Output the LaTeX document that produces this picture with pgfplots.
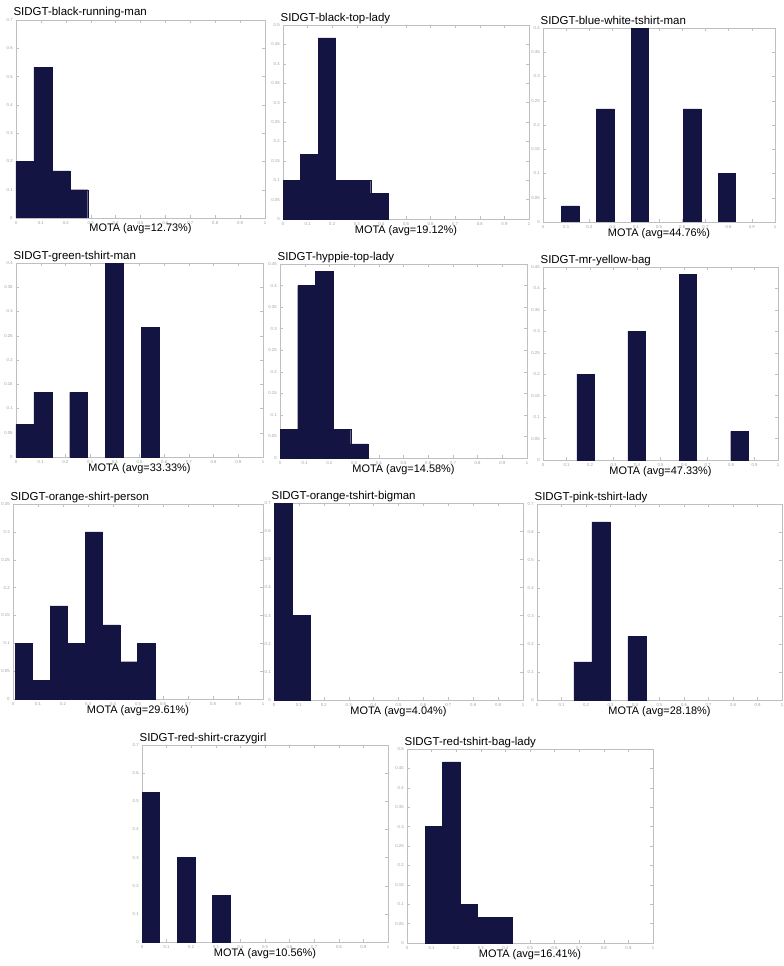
\documentclass[border=0pt]{standalone}
\usepackage{pgfplots}
\pgfplotsset{compat=1.18}
\usepackage{fontspec}
\setmainfont{Liberation Sans}
\definecolor{barnavy}{RGB}{20,20,66}
\definecolor{axgray}{RGB}{190,190,195}
\pgfplotsset{
  hist/.style={
    scale only axis, anchor=south west,
    xmin=0, xmax=1, ymin=0,
    axis line style={draw=axgray, line width=0.4pt},
    tick style={draw=axgray, line width=0.3pt},
    tick align=inside, major tick length=2pt,
    xtick={0,0.1,0.2,0.3,0.4,0.5,0.6,0.7,0.8,0.9,1},
    xticklabels={0,0.1,0.2,0.3,0.4,0.5,0.6,0.7,0.8,0.9,1},
    ticklabel style={font=\fontsize{3.2}{3.5}\selectfont, text=gray!75},
    /pgf/number format/assume math mode=true,
    yticklabel style={/pgf/number format/fixed, /pgf/number format/precision=2, xshift=1pt},
    xticklabel style={yshift=1pt},
    xlabel style={at={(axis description cs:0.5,0)}, anchor=base, yshift=-10.5pt, inner sep=0pt,
                  font=\fontsize{8.2}{9}\selectfont},
    title style={at={(axis description cs:0,1)}, anchor=base west, yshift=-3pt, xshift=-2pt, inner sep=0pt,
                 font=\fontsize{8.6}{9}\selectfont},
    axis background/.style={fill=white},
  },
  hbar/.style={ybar, bar shift=0pt, fill=barnavy, draw=barnavy, line width=0.2pt},
}
\begin{document}
\begin{tikzpicture}
\path[use as bounding box] (0,0) rectangle (588pt,-724.5pt);

% Row 1
\begin{axis}[hist, at={(12pt,-163.5pt)}, width=186.75pt, height=148.5pt,
  ymax=0.7, ytick={0,0.1,0.2,0.3,0.4,0.5,0.6,0.7},
  title={SIDGT-black-running-man}, xlabel={MOTA (avg=12.73\%)}]
\addplot[hbar, bar width=0.072] coordinates {(0.036,0.2) (0.108,0.533) (0.18,0.167) (0.252,0.1)};
\end{axis}

\begin{axis}[hist, at={(212.25pt,-164.25pt)}, width=184.5pt, height=145.5pt,
  ymax=0.5, ytick={0,0.05,0.1,0.15,0.2,0.25,0.3,0.35,0.4,0.45,0.5},
  title={SIDGT-black-top-lady}, xlabel={MOTA (avg=19.12\%)}]
\addplot[hbar, bar width=0.0713] coordinates {(0.0357,0.1) (0.107,0.167) (0.178,0.467) (0.25,0.1) (0.321,0.1) (0.392,0.067)};
\end{axis}

\begin{axis}[hist, at={(407.25pt,-166.5pt)}, width=174pt, height=145.5pt,
  ymax=0.4, ytick={0,0.05,0.1,0.15,0.2,0.25,0.3,0.35,0.4},
  title={SIDGT-blue-white-tshirt-man}, xlabel={MOTA (avg=44.76\%)}]
\addplot[hbar, bar width=0.075] coordinates {(0.1175,0.033) (0.2675,0.233) (0.4175,0.4) (0.6425,0.233) (0.7925,0.1)};
\end{axis}

% Row 2
\begin{axis}[hist, at={(12pt,-342.75pt)}, width=185.25pt, height=145.5pt,
  ymax=0.4, ytick={0,0.05,0.1,0.15,0.2,0.25,0.3,0.35,0.4},
  title={SIDGT-green-tshirt-man}, xlabel={MOTA (avg=33.33\%)}]
\addplot[hbar, bar width=0.0725] coordinates {(0.03625,0.067) (0.10875,0.133) (0.25375,0.133) (0.39875,0.4) (0.54375,0.267)};
\end{axis}

\begin{axis}[hist, at={(210pt,-343.5pt)}, width=185.25pt, height=145.5pt,
  ymax=0.45, ytick={0,0.05,0.1,0.15,0.2,0.25,0.3,0.35,0.4,0.45},
  title={SIDGT-hyppie-top-lady}, xlabel={MOTA (avg=14.58\%)}]
\addplot[hbar, bar width=0.0716] coordinates {(0.0358,0.067) (0.1074,0.4) (0.179,0.433) (0.2506,0.067) (0.3222,0.033)};
\end{axis}

\begin{axis}[hist, at={(407.25pt,-345pt)}, width=176.25pt, height=144.75pt,
  ymax=0.45, ytick={0,0.05,0.1,0.15,0.2,0.25,0.3,0.35,0.4,0.45},
  title={SIDGT-mr-yellow-bag}, xlabel={MOTA (avg=47.33\%)}]
\addplot[hbar, bar width=0.0727] coordinates {(0.18,0.2) (0.398,0.3) (0.617,0.433) (0.835,0.067)};
\end{axis}

% Row 3
\begin{axis}[hist, at={(9.75pt,-524.25pt)}, width=187.5pt, height=146.25pt,
  ymax=0.35, ytick={0,0.05,0.1,0.15,0.2,0.25,0.3,0.35},
  title={SIDGT-orange-shirt-person}, xlabel={MOTA (avg=29.61\%)}]
\addplot[hbar, bar width=0.07] coordinates {(0.043,0.1) (0.113,0.033) (0.183,0.167) (0.253,0.1) (0.323,0.3) (0.393,0.133) (0.463,0.067) (0.533,0.1)};
\end{axis}

\begin{axis}[hist, at={(205.5pt,-525pt)}, width=186.75pt, height=147.75pt,
  ymax=0.7, ytick={0,0.1,0.2,0.3,0.4,0.5,0.6,0.7},
  title={SIDGT-orange-tshirt-bigman}, xlabel={MOTA (avg=4.04\%)}]
\addplot[hbar, bar width=0.0735] coordinates {(0.0368,0.7) (0.110,0.3)};
\end{axis}

\begin{axis}[hist, at={(402.75pt,-525pt)}, width=183.75pt, height=147pt,
  ymax=0.7, ytick={0,0.1,0.2,0.3,0.4,0.5,0.6,0.7},
  title={SIDGT-pink-tshirt-lady}, xlabel={MOTA (avg=28.18\%)}]
\addplot[hbar, bar width=0.0735] coordinates {(0.1868,0.136) (0.2603,0.636) (0.4073,0.227)};
\end{axis}

% Row 4
\begin{axis}[hist, at={(106.5pt,-706.5pt)}, width=184.5pt, height=147.75pt,
  ymax=0.7, ytick={0,0.1,0.2,0.3,0.4,0.5,0.6,0.7},
  title={SIDGT-red-shirt-crazygirl}, xlabel={MOTA (avg=10.56\%)}]
\addplot[hbar, bar width=0.0716] coordinates {(0.0358,0.533) (0.179,0.3) (0.3222,0.167)};
\end{axis}

\begin{axis}[hist, at={(305.25pt,-707.25pt)}, width=184.5pt, height=145.5pt,
  ymax=0.5, ytick={0,0.05,0.1,0.15,0.2,0.25,0.3,0.35,0.4,0.45,0.5},
  title={SIDGT-red-tshirt-bag-lady}, xlabel={MOTA (avg=16.41\%)}]
\addplot[hbar, bar width=0.0708] coordinates {(0.1094,0.3) (0.1802,0.467) (0.251,0.1) (0.3218,0.067) (0.3926,0.067)};
\end{axis}
\end{tikzpicture}
\end{document}
